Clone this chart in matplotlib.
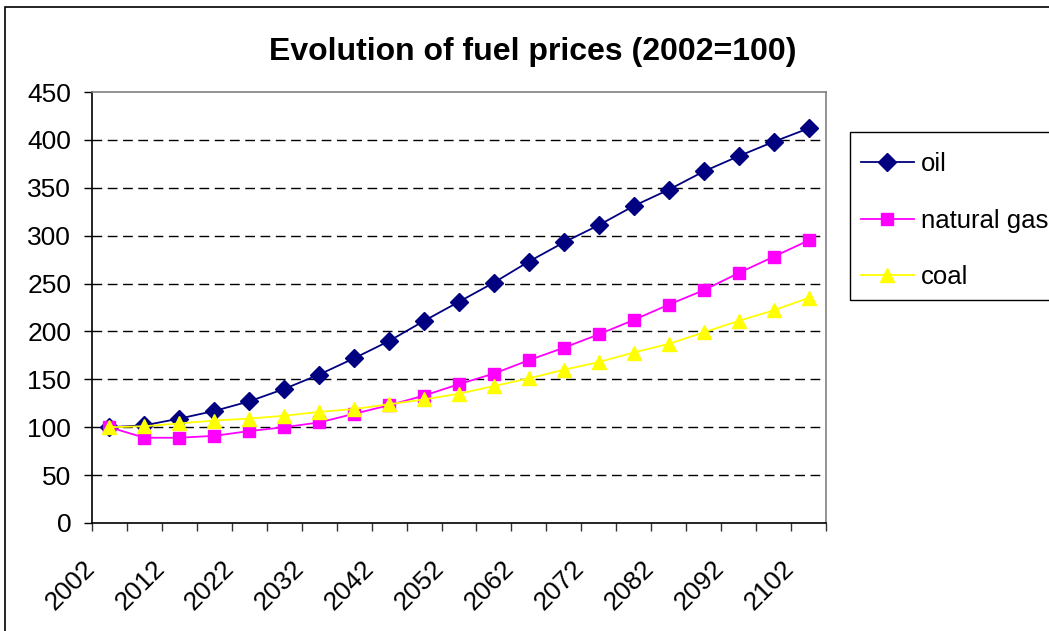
import matplotlib
matplotlib.use("Agg")
import matplotlib.pyplot as plt
import matplotlib.transforms as mtransforms
from matplotlib.patches import Rectangle

plt.rcParams['font.family'] = ['Liberation Sans', 'DejaVu Sans']

# data (index, 2002 = 100)
years = list(range(2002, 2103, 5))
oil = [100, 102, 109, 117, 127, 140, 155, 172, 190, 211, 231, 251,
       273, 293, 311, 331, 348, 367, 383, 398, 412]
natural_gas = [100, 89, 89, 91, 96, 100, 105, 114, 123, 133, 145, 156,
               170, 183, 197, 212, 228, 243, 261, 278, 295]
coal = [100, 101, 104, 107, 109, 112, 116, 119, 124, 129, 135, 143,
        151, 160, 168, 178, 187, 199, 211, 222, 235]

W, H = 1049, 631
fig = plt.figure(figsize=(W / 100, H / 100), dpi=100)

# outer chart frame (right/bottom edges fall outside the picture)
fig.patches.append(Rectangle((5 / W, -0.1), 1.2, 1.1 - 7 / H, transform=fig.transFigure,
                             fill=False, edgecolor='black', linewidth=1.2))
# legend frame, also running off the right edge
fig.patches.append(Rectangle((850 / W, 1 - 300 / H), 220 / W, 168 / H,
                             transform=fig.transFigure, fill=False,
                             edgecolor='black', linewidth=1))

ax = fig.add_axes([92 / W, 1 - 523 / H, (826 - 92) / W, (523 - 92) / H])

x = list(range(len(years)))
ax.plot(x, oil, color='#000080', lw=1.3, marker='D', ms=9, label='oil')
ax.plot(x, natural_gas, color='#FF00FF', lw=1.3, marker='s', ms=8.5, label='natural gas')
ax.plot(x, coal, color='#FFFF00', lw=1.3, marker='^', ms=10, label='coal')

ax.set_xlim(-0.5, len(years) - 0.5)
ax.set_ylim(0, 450)
ax.set_yticks(range(0, 451, 50))

# category boundaries carry the tick marks, every other category a label
ax.set_xticks([i - 0.5 for i in range(len(years) + 1)])
ax.set_xticklabels([])
ax.set_xticks(x[::2], minor=True)
ax.set_xticklabels([str(y) for y in years[::2]], minor=True,
                   rotation=45, ha='right', va='top')
ax.tick_params(axis='x', which='minor', length=0, pad=24, labelsize=19)
ax.tick_params(axis='x', which='major', length=6, width=1, color='#333333')
ax.tick_params(axis='y', length=6, width=1, pad=9, labelsize=19)
shift = mtransforms.ScaledTranslation(-10 / 100, 0, fig.dpi_scale_trans)
for lab in ax.get_xticklabels(minor=True):
    lab.set_transform(lab.get_transform() + shift)

for yv in range(50, 450, 50):
    ax.axhline(yv, color='black', lw=1, dashes=(7, 4), zorder=0)

ax.spines['top'].set_color('#808080')
ax.spines['right'].set_color('#808080')
ax.spines['left'].set_color('black')
ax.spines['bottom'].set_color('black')
for s in ax.spines.values():
    s.set_linewidth(1.2)

fig.text(533 / W, 1 - 60 / H, 'Evolution of fuel prices (2002=100)',
         ha='center', va='baseline', fontsize=23, fontweight='bold')

leg = ax.legend(loc='upper left', bbox_to_anchor=(861 / W, 1 - 152 / H),
                bbox_transform=fig.transFigure, borderaxespad=0,
                fontsize=18.5, frameon=False,
                handlelength=2.05, handletextpad=0.28, borderpad=0,
                labelspacing=1.27)

fig.savefig('out.png', dpi=100)
